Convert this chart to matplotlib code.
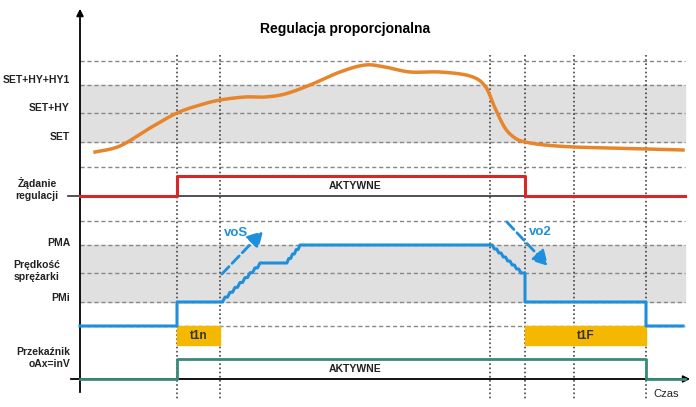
import matplotlib
matplotlib.use("Agg")
import matplotlib.pyplot as plt
import numpy as np

plt.rcParams["font.family"] = "Liberation Sans"

# Data (pixel-space diagram)
temp_x = [95, 120, 150, 177, 200, 220, 245, 265, 285, 310, 340, 365, 385, 410, 440, 470, 485, 495, 505, 515, 525, 545, 574, 610, 646, 683]
temp_y = [152, 146, 128, 113, 105, 100, 97, 97, 94, 85, 72, 65, 67, 72, 72, 76, 86, 108, 128, 138, 142, 145, 147, 148, 149, 150]
req_x = [80, 177, 177, 525, 525, 685]
req_y = [196, 196, 176, 176, 196, 196]
relay_x = [80, 177, 177, 646, 646, 685]
relay_y = [379, 379, 359, 359, 379, 379]
hlines = [61, 85, 113, 142, 167, 221, 245, 273, 302, 326]
vlines = [177, 220, 490, 525, 574, 646]
left_labels = [("SET+HY+HY1", 80), ("SET+HY", 108), ("SET", 137), ("PMA", 243), ("PMi", 298)]

def catmull(xs, ys, n=12):
    P = np.array(list(zip(xs, ys)), float)
    P = np.vstack([P[0], P, P[-1]])
    out = []
    for i in range(1, len(P) - 2):
        p0, p1, p2, p3 = P[i - 1], P[i], P[i + 1], P[i + 2]
        for t in np.linspace(0, 1, n, endpoint=False):
            out.append(0.5 * ((2 * p1) + (-p0 + p2) * t + (2 * p0 - 5 * p1 + 4 * p2 - p3) * t**2
                              + (-p0 + 3 * p1 - 3 * p2 + p3) * t**3))
    out.append(P[-2])
    out = np.array(out)
    return out[:, 0], out[:, 1]

def stairs(x0, y0, x1, y1, n):
    xs, ys = [x0], [y0]
    dx = (x1 - x0) / n; dy = (y1 - y0) / n
    for i in range(n):
        xs += [x0 + dx * (i + 0.5), x0 + dx * (i + 1)]
        ys += [y0 + dy * i, y0 + dy * (i + 1)]
    return xs, ys

sx, sy = [80, 177, 177, 220], [326, 326, 302, 302]
a, b = stairs(220, 302, 260, 263, 8); sx += a; sy += b
sx += [285]; sy += [263]
a, b = stairs(285, 263, 300, 245, 4); sx += a; sy += b
sx += [490]; sy += [245]
a, b = stairs(490, 245, 521, 273, 7); sx += a; sy += b
sx += [525, 525, 646, 646, 683]; sy += [273, 302, 302, 326, 326]

fig = plt.figure(figsize=(6.96, 4.07), dpi=100)
ax = fig.add_axes([0, 0, 1, 1])
ax.set_xlim(0, 696); ax.set_ylim(407, 0); ax.axis("off")

for y0, y1 in [(85, 142), (245, 302)]:
    ax.fill_between([80, 685], y0, y1, color="#e0e0e0", zorder=0)
for y in hlines:
    ax.plot([80, 685], [y, y], ls=(0, (3, 2)), color="#888888", lw=1, zorder=1)
for x in vlines:
    ax.plot([x, x], [55, 400], ls=(0, (1, 1.5)), color="#444444", lw=1.2, zorder=1)

ax.annotate("", xy=(80, 6), xytext=(80, 395), arrowprops=dict(arrowstyle="-|>", color="black", lw=1.3))
ax.annotate("", xy=(693, 379), xytext=(68, 379), arrowprops=dict(arrowstyle="-|>", color="black", lw=1.3))
ax.plot([68, 525], [196, 196], color="#333333", lw=1.2, zorder=2)

tx, ty = catmull(temp_x, temp_y)
ax.plot(tx, ty, color="#e8852a", lw=2.5, zorder=3)
ax.plot(req_x, req_y, color="#d62828", lw=2.2, zorder=3)
ax.plot(sx, sy, color="#1e8fdc", lw=2.2, zorder=3)
ax.plot(relay_x, relay_y, color="#3a8a7a", lw=2, zorder=3)

for x0, x1, t in [(177, 220, "t1n"), (525, 646, "t1F")]:
    ax.fill_between([x0, x1], 326, 345, color="#f5b800", zorder=2)
    ax.text((x0 + x1) / 2, 336, t, ha="center", va="center", fontsize=8.5, fontweight="bold", color="#333333", zorder=4)

ax.annotate("", xy=(265, 229), xytext=(220, 276),
            arrowprops=dict(arrowstyle="-|>,head_width=0.5,head_length=0.9", ls="--", color="#1e8fdc", lw=2))
ax.annotate("", xy=(550, 268), xytext=(505, 220),
            arrowprops=dict(arrowstyle="-|>,head_width=0.5,head_length=0.9", ls="--", color="#1e8fdc", lw=2))
ax.text(224, 233, "voS", color="#1e8fdc", fontsize=9.5, fontweight="bold", va="center")
ax.text(529, 232, "vo2", color="#1e8fdc", fontsize=9.5, fontweight="bold", va="center")

ax.text(345, 29, "Regulacja proporcjonalna", ha="center", va="center", fontsize=10, fontweight="bold")
ax.text(355, 186, "AKTYWNE", ha="center", va="center", fontsize=7.5, fontweight="bold", color="#222222")
ax.text(355, 369, "AKTYWNE", ha="center", va="center", fontsize=7.5, fontweight="bold", color="#222222")
ax.text(666, 394, "Czas", ha="center", va="center", fontsize=8, color="#222222")

for t, y in left_labels:
    ax.text(70, y, t, ha="right", va="center", fontsize=7.5, fontweight="bold", color="#222222")
ax.text(37, 189, "Żądanie\nregulacji", ha="center", va="center", fontsize=7.5, fontweight="bold", color="#222222", linespacing=1.3)
ax.text(37, 271, "Prędkość\nsprężarki", ha="center", va="center", fontsize=7.5, fontweight="bold", color="#222222", linespacing=1.3)
ax.text(70, 358, "Przekaźnik\noAx=inV", ha="right", va="center", fontsize=7.5, fontweight="bold", color="#222222", linespacing=1.3, multialignment="right")

fig.savefig("out.png", dpi=100)
